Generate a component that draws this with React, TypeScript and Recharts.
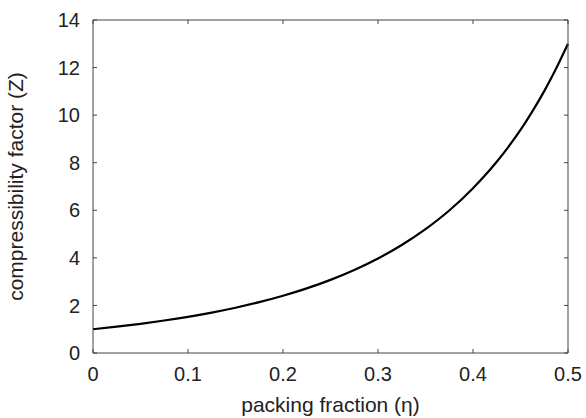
import { Line, LineChart, XAxis, YAxis, Label } from "recharts";

const packing = [0, 0.025, 0.05, 0.075, 0.1, 0.125, 0.15, 0.175, 0.2, 0.225, 0.25, 0.275, 0.3, 0.325, 0.35, 0.375, 0.4, 0.425, 0.4375, 0.45, 0.4625, 0.475, 0.4875, 0.5];
const compress = [1.0, 1.107, 1.227, 1.365, 1.521, 1.7, 1.904, 2.138, 2.406, 2.716, 3.074, 3.49, 3.974, 4.54, 5.206, 5.99, 6.93, 8.04, 8.68, 9.38, 10.16, 11.01, 11.96, 13.0];

const xTicks = [0, 0.1, 0.2, 0.3, 0.4, 0.5];
const yTicks = [0, 2, 4, 6, 8, 10, 12, 14];

const data = packing.map((eta, i) => ({ eta, z: compress[i] }));

const font = '"Liberation Sans", Arial, sans-serif';
const ink = "#222";
const axisCol = "#444";

function YTitle({ viewBox }: any) {
  const cy = viewBox.y + viewBox.height / 2;
  const x = 23;
  return (
    <text x={x} y={cy} transform={`rotate(-90 ${x} ${cy})`} textAnchor="middle" fontSize={21} fontFamily={font} fill={ink}>
      compressibility factor (Z)
    </text>
  );
}

const noTick = () => <g />;

export default function App() {
  return (
    <div style={{ position: "absolute", left: 0, top: 0, width: 586, height: 418, background: "#fff" }}>
      <LineChart width={586} height={418} data={data} margin={{ top: 19, right: 17, bottom: 0, left: 0 }}>
        <XAxis
          dataKey="eta"
          type="number"
          domain={[0, 0.5]}
          ticks={xTicks}
          height={65}
          tickSize={-4}
          tickMargin={18}
          stroke={axisCol}
          tick={{ fill: ink, fontSize: 20, fontFamily: font }}
        >
          <Label value="packing fraction (η)" position="insideBottom" offset={6} fontSize={21} fontFamily={font} fill={ink} />
        </XAxis>
        <XAxis xAxisId="top" dataKey="eta" orientation="top" type="number" domain={[0, 0.5]} ticks={xTicks} height={1} tickSize={-4} stroke={axisCol} tick={noTick} />
        <YAxis
          type="number"
          domain={[0, 14]}
          ticks={yTicks}
          width={93}
          tickSize={-4}
          tickMargin={17}
          stroke={axisCol}
          tick={{ fill: ink, fontSize: 20, fontFamily: font }}
        >
          <Label content={YTitle} />
        </YAxis>
        <YAxis yAxisId="right" orientation="right" type="number" domain={[0, 14]} ticks={yTicks} width={1} tickSize={-4} stroke={axisCol} tick={noTick} />
        <Line xAxisId="top" yAxisId="right" dataKey="z" stroke="none" dot={false} activeDot={false} isAnimationActive={false} />
        <Line type="monotone" dataKey="z" stroke="#000" strokeWidth={2.2} dot={false} isAnimationActive={false} />
      </LineChart>
    </div>
  );
}
